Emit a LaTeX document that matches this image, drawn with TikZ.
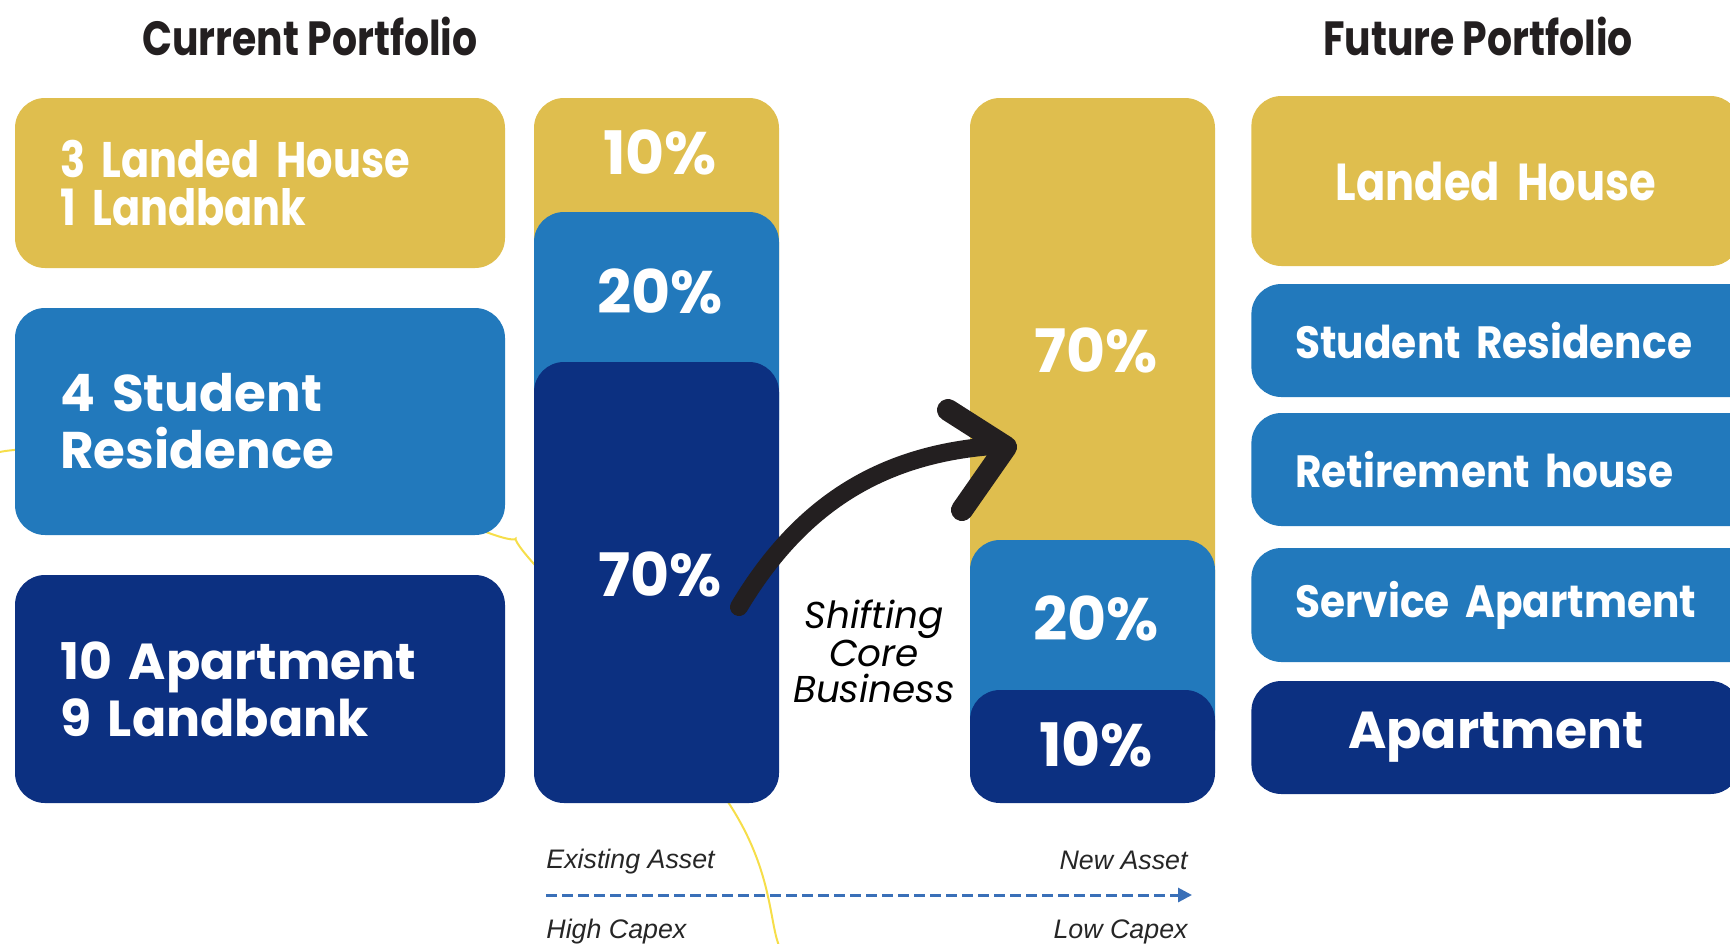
\documentclass[tikz,border=0pt]{standalone}
\usepackage{fontspec}
\setmainfont{Poppins}
\newfontfamily\narrowfont{Poppins}[FakeStretch=0.83]
\newfontfamily\medfont{Poppins}[FakeStretch=0.9]
\newfontfamily\titlefont{Poppins}[FakeStretch=0.82]
\newfontfamily\notefont{Liberation Sans}
\usetikzlibrary{arrows.meta}

\definecolor{gold}{HTML}{DFBE4E}
\definecolor{midblue}{HTML}{2279BC}
\definecolor{navy}{HTML}{0C3081}
\definecolor{ink}{HTML}{231F20}
\definecolor{ringyellow}{HTML}{F6DE4A}
\definecolor{dashblue}{HTML}{3A70B8}

\tikzstyle{heading}=[inner sep=0pt,text=ink,font=\titlefont\bfseries\fontsize{24}{26}\selectfont]
\tikzstyle{leftbox}=[rectangle,rounded corners=15pt,minimum width=245pt,inner xsep=22.5pt,
text width=200pt,align=left,text=white,font=\bfseries\fontsize{25.8}{28.5}\selectfont]
\tikzstyle{rightbox}=[rectangle,rounded corners=15pt,anchor=west,inner xsep=22pt,
text width=230pt,align=left,text=white,font=\medfont\bfseries\fontsize{22.6}{25}\selectfont]
\tikzstyle{share}=[inner sep=0pt,text=white,font=\bfseries\fontsize{30}{32}\selectfont]
\tikzstyle{note}=[inner sep=0pt,text=black!85,font=\notefont\itshape\fontsize{13.4}{15}\selectfont]

\begin{document}
\begin{tikzpicture}[x=0.5pt,y=-0.5pt]
\useasboundingbox (0,0) rectangle (1730,943);
\clip (0,0) rectangle (1730,943);

% faint ring behind the boxes
\draw [ringyellow,line width=1pt] plot[smooth,tension=0.6] coordinates
{(-10,460) (14,450) (200,440) (486,532) (534,564) (730,805) (778,943) (782,960)};

% titles
\node [heading] (curTitle) at (310,36) {Current Portfolio};
\node [heading] (futTitle) at (1478,36) {Future Portfolio};

% current portfolio
\node [leftbox,fill=gold,minimum height=85pt,font=\narrowfont\bfseries\fontsize{25}{24}\selectfont]
  (curLanded) at (260,183) {3 Landed House\\1 Landbank};
\node [leftbox,fill=midblue,minimum height=113.5pt] (curStudent) at (260,421.5) {4 Student\\Residence};
\node [leftbox,fill=navy,minimum height=114pt,font=\bfseries\fontsize{25.3}{28.5}\selectfont]
  (curApart) at (260,689) {10 Apartment\\9 Landbank};

% current mix bar
\fill [gold,rounded corners=15pt] (534,98) rectangle (779,300);
\fill [midblue,rounded corners=15pt] (534,212) rectangle (779,450);
\fill [navy,rounded corners=15pt] (534,362) rectangle (779,803);
\node [share] (curTen) at (660,152) {10\%};
\node [share] (curTwenty) at (660,291) {20\%};
\node [share] (curSeventy) at (660,574) {70\%};

% future mix bar
\fill [gold,rounded corners=15pt] (970,98) rectangle (1215,620);
\fill [midblue,rounded corners=15pt] (970,540) rectangle (1215,760);
\fill [navy,rounded corners=15pt] (970,690) rectangle (1215,803);
\node [share] (futSeventy) at (1096,350) {70\%};
\node [share] (futTwenty) at (1096,618) {20\%};
\node [share] (futTen) at (1096,744) {10\%};

% future portfolio
\node [rightbox,fill=gold,minimum height=85pt,text width=200.5pt,align=center,
  font=\narrowfont\bfseries\fontsize{26}{28}\selectfont] (futLanded) at (1251,181) {Landed House};
\node [rightbox,fill=midblue,minimum height=56.5pt] (futStudent) at (1251,340.5) {Student Residence};
\node [rightbox,fill=midblue,minimum height=56.5pt] (futRetire) at (1251,469.5) {Retirement house};
\node [rightbox,fill=midblue,minimum height=57pt] (futService) at (1251,605) {Service Apartment};
\node [rightbox,fill=navy,minimum height=56.5pt,text width=200.5pt,align=center,
  font=\bfseries\fontsize{26}{28}\selectfont] (futApart) at (1251,737.5) {Apartment};

% shifting arrow
\coordinate (shiftFrom) at (739,607);
\coordinate (shiftTo) at (992,446);
\coordinate (tipUp) at (948,410);
\coordinate (tip) at (1006,447);
\coordinate (tipDown) at (962,510);
\draw [ink,line width=9pt,line cap=round] (shiftFrom) .. controls (800,505) and (880,455) .. (shiftTo);
\draw [ink,line width=11pt,line cap=round,line join=round] (tipUp) -- (tip) -- (tipDown);
\node [inner sep=0pt,align=center,font=\itshape\fontsize{18.7}{17.7}\selectfont]
  (shiftText) at (874,651) {Shifting\\Core\\Business};

% asset axis
\node [note,anchor=west] (existing) at (546,862) {Existing Asset};
\node [note,anchor=east] (newAsset) at (1188,860) {New Asset};
\node [note,anchor=west] (highCap) at (546,932) {High Capex};
\node [note,anchor=east] (lowCap) at (1188,932) {Low Capex};
\coordinate (axisFrom) at (546,895);
\coordinate (axisTo) at (1192,895);
\draw [dashblue,line width=1.5pt,dash pattern=on 5.5pt off 2.5pt,-{Triangle[length=7pt,width=7pt]}]
  (axisFrom) -- (axisTo);
\end{tikzpicture}
\end{document}
